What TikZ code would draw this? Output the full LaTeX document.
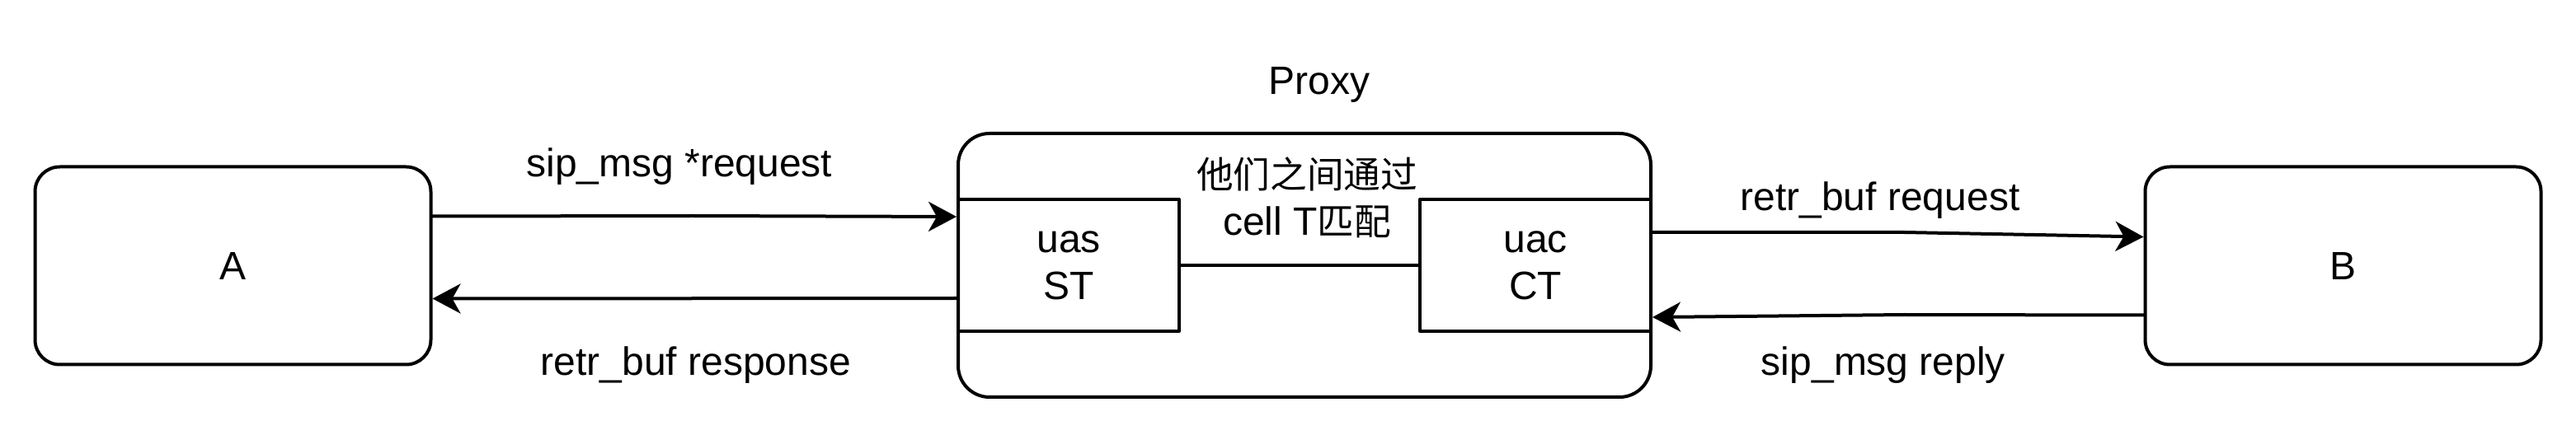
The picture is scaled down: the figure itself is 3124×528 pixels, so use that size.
\documentclass[tikz,border=0pt]{standalone}
\usepackage{fontspec}
\setmainfont{Liberation Sans}
\newfontfamily\cjk{Noto Sans CJK SC}[Scale=0.93]
\usetikzlibrary{arrows.meta}

\begin{document}
\begin{tikzpicture}[line cap=round,line join=round,>={Stealth[length=17pt,width=18pt,inset=5pt]},x=0.5pt,y=-0.5pt,
  every node/.style={font=\fontsize{24}{28.5}\selectfont},
  endbox/.style={draw,line width=2pt,rounded corners=15pt,minimum width=240pt,minimum height=120pt},
  subbox/.style={draw,line width=2pt,minimum height=80pt,align=center},
  link/.style={->,line width=2pt}]
\useasboundingbox (0,0) rectangle (3124,528);
% end points
\node[endbox] (A) at (282.5,322.5) {A};
\node[endbox] (B) at (2841.5,322.5) {B};
% proxy with its two sides
\node[draw,line width=2pt,rounded corners=19pt,minimum width=420pt,minimum height=160pt] (prx) at (1582,322) {};
\node[anchor=base] (prxlbl) at (1600,115) {Proxy};
\node[subbox,minimum width=134pt,anchor=west] (uas) at (prx.west) {uas\\ST};
\node[subbox,minimum width=140pt,anchor=east] (uac) at (prx.east) {uac\\CT};
\draw[line width=2pt] (uas.east) -- (uac.west);
\node[align=center] (match) at (1585,240) {{\cjk 他们之间通过}\\cell T{\cjk 匹配}};
% messages
\coordinate (bendAP) at (840,262);
\coordinate (bendPB) at (2310,282);
\coordinate (bendBP) at (2310,382);
\draw[link] ([yshift=30pt]A.east) -- (bendAP) -- ([yshift=29.5pt]prx.west);
\draw[link] ([yshift=-20pt]prx.west) -- ([yshift=-20pt]A.east);
\draw[link] ([yshift=20pt]prx.east) -- (bendPB) -- ([yshift=17.5pt]B.west);
\draw[link] ([yshift=-30pt]B.west) -- (bendBP) -- ([yshift=-31.5pt]prx.east);
\node[anchor=base] (req) at (824,215) {sip\_msg *request};
\node[anchor=base] (resp) at (844,456) {retr\_buf response};
\node[anchor=base] (breq) at (2280,256) {retr\_buf request};
\node[anchor=base] (brep) at (2284,456) {sip\_msg reply};
\end{tikzpicture}
\end{document}
